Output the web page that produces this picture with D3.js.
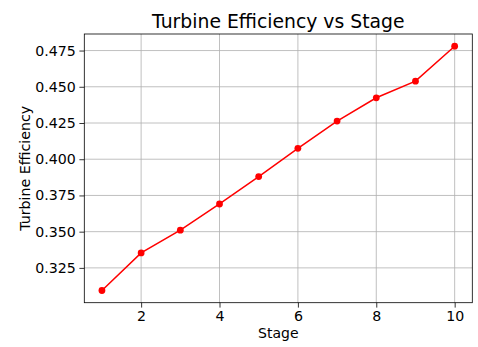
<!DOCTYPE html>
<html><head><meta charset="utf-8">
<script src="https://cdn.jsdelivr.net/npm/d3@7"></script>
<style>body{margin:0;background:#fff}svg{display:block}text{font-family:"DejaVu Sans",sans-serif;fill:#000}</style>
</head><body>
<script>
const stages = [1,2,3,4,5,6,7,8,9,10];
const efficiency = [0.3094,0.3353,0.3510,0.3691,0.3880,0.4075,0.4263,0.4424,0.4539,0.4780];
const xTicks = [2,4,6,8,10];
const yTicks = [0.325,0.350,0.375,0.400,0.425,0.450,0.475];
const title = "Turbine Efficiency vs Stage";
const xLabel = "Stage";
const yLabel = "Turbine Efficiency";

const W=478,H=347;
const L=84.3,R=472.3,T=34,B=302.7;
const svg=d3.select("body").append("svg").attr("width",W).attr("height",H);

const xmin=d3.min(stages),xmax=d3.max(stages);
const ymin=d3.min(efficiency),ymax=d3.max(efficiency);
const xm=(xmax-xmin)*0.05, ym=(ymax-ymin)*0.05;
const x=d3.scaleLinear().domain([xmin-xm,xmax+xm]).range([L,R]);
const y=d3.scaleLinear().domain([ymin-ym,ymax+ym]).range([B,T]);

// grid
const g=svg.append("g");
g.selectAll(".gx").data(xTicks).join("line")
 .attr("x1",d=>x(d)).attr("x2",d=>x(d)).attr("y1",T).attr("y2",B)
 .attr("stroke","#b0b0b0").attr("stroke-width",0.8);
g.selectAll(".gy").data(yTicks).join("line")
 .attr("y1",d=>y(d)).attr("y2",d=>y(d)).attr("x1",L).attr("x2",R)
 .attr("stroke","#b0b0b0").attr("stroke-width",0.8);

// axes
const xa=svg.append("g").attr("transform",`translate(0,${B})`)
 .call(d3.axisBottom(x).tickValues(xTicks).tickFormat(d3.format("d")).tickSize(4.9).tickPadding(3));
const ya=svg.append("g").attr("transform",`translate(${L},0)`)
 .call(d3.axisLeft(y).tickValues(yTicks).tickFormat(d3.format(".3f")).tickSize(4.9).tickPadding(3.5));
[xa,ya].forEach(a=>{a.select(".domain").remove();a.selectAll("text").style("font-size","14.2px").attr("fill","#000");a.selectAll("line").attr("stroke","#000").attr("stroke-width",0.8);});

// line
svg.append("path").datum(stages.map((s,i)=>[s,efficiency[i]]))
 .attr("d",d3.line().x(d=>x(d[0])).y(d=>y(d[1])))
 .attr("fill","none").attr("stroke","#ff0000").attr("stroke-width",1.5);
svg.selectAll(".pt").data(stages).join("circle")
 .attr("cx",d=>x(d)).attr("cy",(d,i)=>y(efficiency[i])).attr("r",3.4).attr("fill","#ff0000");

// frame
svg.append("rect").attr("x",L).attr("y",T).attr("width",R-L).attr("height",B-T)
 .attr("fill","none").attr("stroke","#000").attr("stroke-width",0.8);

svg.append("text").attr("x",(L+R)/2).attr("y",28.3).attr("text-anchor","middle").style("font-size","18.8px").text(title);
svg.append("text").attr("x",(L+R)/2).attr("y",337.5).attr("text-anchor","middle").style("font-size","14px").text(xLabel);
svg.append("text").attr("transform",`translate(30,${(T+B)/2}) rotate(-90)`).attr("text-anchor","middle").style("font-size","14.2px").text(yLabel);
</script>
</body></html>
